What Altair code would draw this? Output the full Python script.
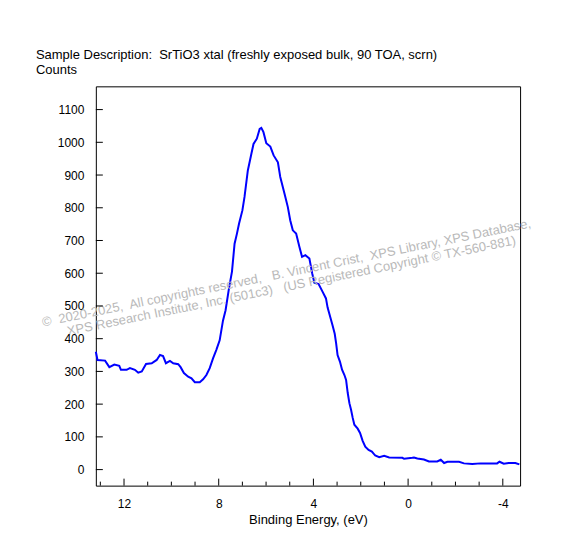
import altair as alt
import pandas as pd

# Binding energy (eV) and counts
energy = [13.19, 13.12, 12.8, 12.62, 12.41, 12.2, 12.13, 11.89, 11.75, 11.54, 11.4, 11.25,
          11.07, 10.83, 10.62, 10.48, 10.35, 10.23, 10.06, 9.92, 9.71, 9.61, 9.47, 9.29,
          9.15, 9.01, 8.8, 8.66, 8.52, 8.38, 8.24, 8.1, 7.96, 7.82, 7.71, 7.57, 7.44, 7.33,
          7.23, 7.14, 7.0, 6.91, 6.77, 6.62, 6.53, 6.39, 6.27, 6.2, 6.11, 5.99, 5.82, 5.68,
          5.5, 5.4, 5.22, 5.08, 4.98, 4.87, 4.73, 4.59, 4.48, 4.34, 4.17, 4.05, 3.96, 3.78,
          3.61, 3.47, 3.4, 3.33, 3.19, 3.1, 3.04, 2.98, 2.88, 2.79, 2.69, 2.62, 2.55, 2.48,
          2.41, 2.34, 2.27, 2.13, 2.03, 1.92, 1.81, 1.67, 1.53, 1.39, 1.22, 1.01, 0.8, 0.24,
          0.17, -0.18, -0.25, -0.39, -0.67, -0.88, -1.23, -1.38, -1.52, -1.66, -2.15, -2.36,
          -2.71, -3.06, -3.76, -3.86, -4.04, -4.25, -4.53, -4.7]
counts = [360, 335, 333, 313, 321, 317, 305, 305, 310, 305, 296, 300,
          323, 325, 335, 350, 347, 325, 332, 325, 322, 313, 295, 284,
          279, 267, 267, 276, 289, 310, 340, 366, 395, 455, 487, 552, 605, 690,
          721, 752, 792, 833, 914, 965, 995, 1011, 1041, 1044, 1031, 997, 987, 960,
          939, 894, 843, 802, 762, 731, 721, 680, 650, 655, 645, 599, 571, 567,
          543, 523, 495, 477, 440, 415, 386, 350, 330, 305, 289, 274, 234, 203,
          183, 158, 137, 125, 112, 88, 70, 60, 55, 43, 38, 42, 37, 36,
          33, 36, 37, 34, 31, 25, 25, 30, 20, 24, 24, 19,
          17, 19, 19, 24, 18, 20, 20, 16]

x_major = [12, 8, 4, 0, -4]
x_minor = [13, 11, 10, 9, 7, 6, 5, 3, 2, 1, -1, -2, -3]
y_major = [0, 100, 200, 300, 400, 500, 600, 700, 800, 900, 1000, 1100]

NB = "\u00a0"
title_text = f"Sample Description:{NB} SrTiO3 xtal (freshly exposed bulk, 90 TOA, scrn)"
ylabel_text = "Counts"
xlabel_text = "Binding Energy, (eV)"
wm_line1 = (f"\u00a9{NB} 2020-2025,{NB} All copyrights reserved,{NB}{NB} B. Vincent Crist,"
            f"{NB} XPS Library, XPS Database,")
wm_line2 = f"XPS Research Institute, Inc. (501c3){NB}{NB} (US Registered Copyright \u00a9 TX-560-881)"

FONT = "Liberation Sans"
W, H = 425, 400

xscale = alt.Scale(domain=[-4.73, 13.19], reverse=True, nice=False, zero=False)
yscale = alt.Scale(domain=[-49, 1171], nice=False, zero=False)

x_axis = alt.Axis(values=x_major, labelExpr="toString(datum.value)", title=xlabel_text,
                  ticks=False, tickSize=0, labelOverlap=False,
                  domain=False, grid=False, labelPadding=13, titlePadding=4,
                  labelFont=FONT, labelFontSize=12, labelColor="black",
                  titleFont=FONT, titleFontSize=13, titleFontWeight="normal",
                  titleColor="black", zindex=1)
y_axis = alt.Axis(values=y_major, labelExpr="toString(datum.value)", title=None,
                  ticks=False, tickSize=0, labelOverlap=False,
                  domain=False, grid=False, labelPadding=12,
                  labelFont=FONT, labelFontSize=12, labelColor="black", zindex=1)

df = pd.DataFrame({"energy": energy, "counts": counts})

line = alt.Chart(df).mark_line(color="#0000ff", strokeWidth=2).encode(
    x=alt.X("energy:Q", scale=xscale, axis=x_axis),
    y=alt.Y("counts:Q", scale=yscale, axis=y_axis),
)

xmaj = alt.Chart(pd.DataFrame({"energy": x_major})).mark_rule(color="black", strokeWidth=1).encode(
    x=alt.X("energy:Q", scale=xscale, axis=x_axis), y=alt.value(H), y2=alt.value(H - 7))
xmin = alt.Chart(pd.DataFrame({"energy": x_minor})).mark_rule(color="black", strokeWidth=1).encode(
    x=alt.X("energy:Q", scale=xscale, axis=x_axis), y=alt.value(H), y2=alt.value(H - 4))
ymaj = alt.Chart(pd.DataFrame({"counts": y_major})).mark_rule(color="black", strokeWidth=1).encode(
    y=alt.Y("counts:Q", scale=yscale, axis=y_axis), x=alt.value(0), x2=alt.value(7))

title = alt.Chart(pd.DataFrame({"t": [title_text]})).mark_text(
    align="left", baseline="alphabetic", font=FONT, fontSize=13, color="black").encode(
    text="t:N", x=alt.value(-60), y=alt.value(-27))
ylab = alt.Chart(pd.DataFrame({"t": [ylabel_text]})).mark_text(
    align="left", baseline="alphabetic", font=FONT, fontSize=13, color="black").encode(
    text="t:N", x=alt.value(-60), y=alt.value(-12))

wm1 = alt.Chart(pd.DataFrame({"t": [wm_line1]})).mark_text(
    align="center", baseline="middle", font=FONT, fontSize=13, color="#b9b9b9", angle=348.5).encode(
    text="t:N", x=alt.value(191), y=alt.value(187))
wm2 = alt.Chart(pd.DataFrame({"t": [wm_line2]})).mark_text(
    align="center", baseline="middle", font=FONT, fontSize=13, color="#b9b9b9", angle=348.5).encode(
    text="t:N", x=alt.value(196), y=alt.value(200))

chart = alt.layer(line, wm1, wm2, xmaj, xmin, ymaj, title, ylab).properties(
    width=W, height=H,
    background="white",
    autosize=alt.AutoSizeParams(type="none"),
    padding={"left": 88, "top": 78, "right": 50, "bottom": 66},
).configure_view(stroke="black", strokeWidth=1)

chart.save("out.html", embed_options={"renderer": "svg", "actions": False})
